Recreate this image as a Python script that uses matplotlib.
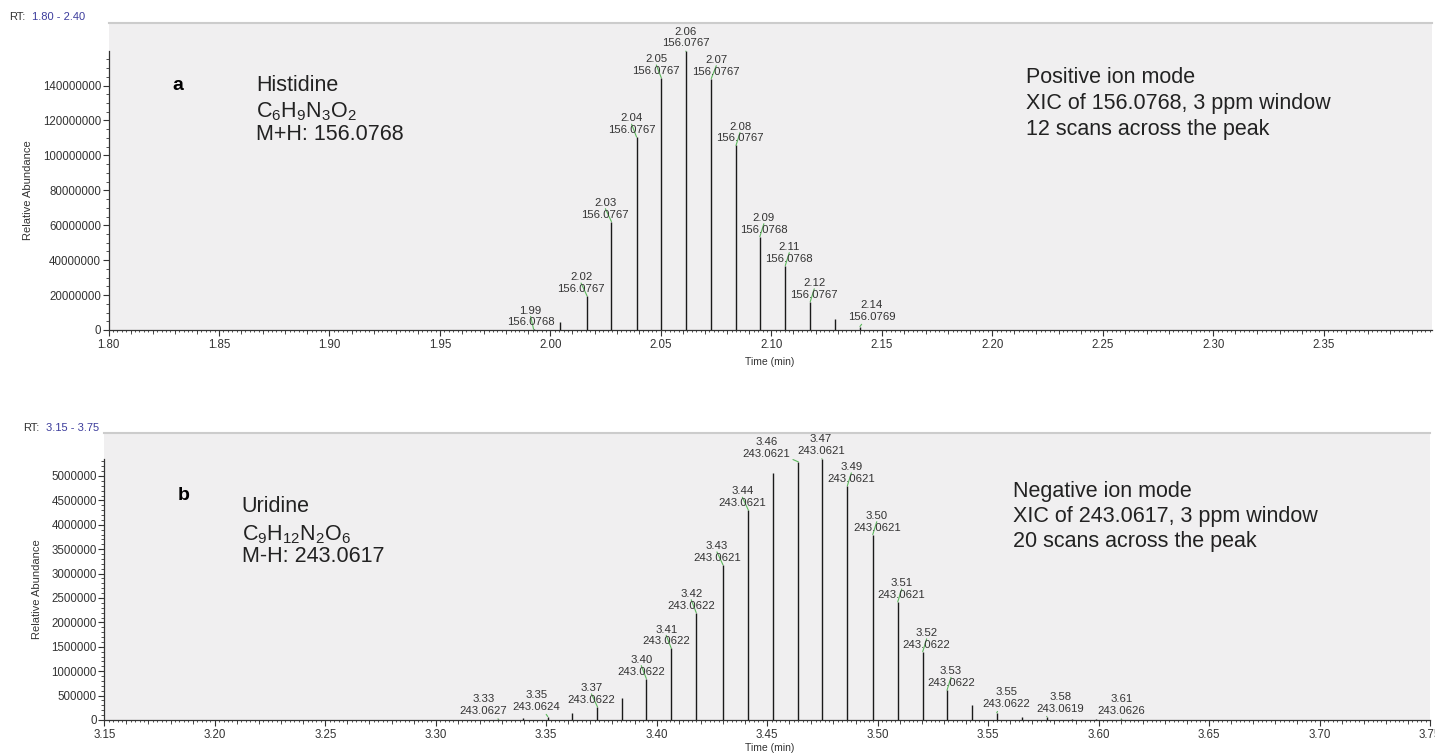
import matplotlib
matplotlib.use("Agg")
import matplotlib.pyplot as plt
from matplotlib.ticker import (MultipleLocator, FixedLocator, FuncFormatter,
                               FormatStrFormatter, NullFormatter, NullLocator)
import numpy as np

plt.rcParams['font.family'] = ['Liberation Sans', 'DejaVu Sans']
plt.rcParams['mathtext.fontset'] = 'custom'
plt.rcParams['mathtext.rm'] = 'Liberation Sans'
plt.rcParams['mathtext.it'] = 'Liberation Sans:italic'
plt.rcParams['mathtext.bf'] = 'Liberation Sans:bold'

# ---------------- data ----------------
# Histidine XIC (positive mode): scan retention times (min), intensities, apex m/z
his_rt = [1.9924, 2.0045, 2.0166, 2.0276, 2.0390, 2.0502, 2.0613,
          2.0728, 2.0840, 2.0948, 2.1063, 2.1176, 2.1289, 2.1401]
his_int = [0.4e6, 4.8e6, 19.5e6, 62.1e6, 110.5e6, 144.4e6, 159.6e6,
           144.0e6, 105.7e6, 53.5e6, 36.9e6, 16.2e6, 6.3e6, 2.0e6]
his_mz = ["156.0768", None, "156.0767", "156.0767", "156.0767", "156.0767",
          "156.0767", "156.0767", "156.0767", "156.0768", "156.0768",
          "156.0767", None, "156.0769"]
his_range = (1.80, 2.40)

# Uridine XIC (negative mode)
uri_rt = [3.3283, 3.3395, 3.3507, 3.3619, 3.3732, 3.3843, 3.3953, 3.4066,
          3.4179, 3.4300, 3.4415, 3.4528, 3.4641, 3.4748, 3.4863, 3.4978,
          3.5091, 3.5204, 3.5314, 3.5427, 3.5539, 3.5652, 3.5765, 3.5878,
          3.5990, 3.6103]
uri_int = [0.02e6, 0.05e6, 0.07e6, 0.137e6, 0.27e6, 0.46e6, 0.85e6, 1.47e6,
           2.20e6, 3.18e6, 4.30e6, 5.07e6, 5.29e6, 5.35e6, 4.80e6, 3.80e6,
           2.42e6, 1.40e6, 0.61e6, 0.31e6, 0.15e6, 0.055e6, 0.07e6, 0.03e6,
           0.02e6, 0.02e6]
uri_mz = ["243.0627", None, "243.0624", None, "243.0622", None, "243.0622",
          "243.0622", "243.0622", "243.0621", "243.0621", None, "243.0621",
          "243.0621", "243.0621", "243.0621", "243.0621", "243.0622",
          "243.0622", None, "243.0622", None, "243.0619", None, None,
          "243.0626"]
uri_range = (3.15, 3.75)

# label placement (pixel offsets of each peak label from its apex)
his_shift = [(-3, 2), None, (-6, 2), (-6, 2), (-5, 2), (-5, 2), (0, 3),
             (5, 2), (4, 2), (4, 2), (4, 2), (4, 2), None, (12, 5)]
uri_shift = [(-15, 3), None, (-11, 5), None, (-6, 2), None, (-5, 2),
             (-5, 2), (-5, 2), (-6, 2), (-6, 2), None, (-32, 3),
             (-1, 3), (4, 2), (4, 2), (4, 2), (4, 2), (4, 2), None,
             (10, 4), None, (14, 3), None, None, (0, 3)]

# ---------------- figure ----------------
W, H = 1435, 754
fig = plt.figure(figsize=(W / 100, H / 100), dpi=100)
fig.patch.set_facecolor('white')

TXT = '#333333'
GREEN = '#5cb85c'
BG = '#f0eff0'


def ftext(x, y, s, **kw):
    fig.text(x / W, 1 - y / H, s, va='baseline', **kw)


def draw_panel(rect, rt, inten, mz, shifts, xlim, ytop, ystep, yminor,
               ylab_xy):
    ax = fig.add_axes(rect)
    ax.set_facecolor(BG)
    ax.set_xlim(*xlim)
    ax.set_ylim(0, ytop)
    ax.vlines(rt, 0, inten, colors='#1a1a1a', lw=1.0, zorder=3)

    for t, h, m, s in zip(rt, inten, mz, shifts):
        if m is None:
            continue
        dx, dy = s
        ax.annotate(f"{t:.2f}\n{m}", xy=(t, h), xytext=(dx, dy),
                    textcoords='offset pixels', ha='center', va='bottom',
                    fontsize=8.2, color=TXT, linespacing=1.22, zorder=4,
                    arrowprops=dict(arrowstyle='-', color=GREEN, lw=0.8,
                                    shrinkA=0, shrinkB=0))

    top = max(inten)
    # x axis
    ax.xaxis.set_major_locator(MultipleLocator(0.05))
    ax.xaxis.set_major_formatter(FormatStrFormatter('%.2f'))
    ax.xaxis.set_minor_locator(MultipleLocator(0.002))
    ax.tick_params(axis='x', which='major', length=4.3, width=0.8, pad=2.5,
                   labelsize=8.3, colors=TXT)
    ax.tick_params(axis='x', which='minor', length=1.5, width=0.6,
                   colors=TXT)
    sec = ax.secondary_xaxis('bottom')
    sec.xaxis.set_major_locator(MultipleLocator(0.01))
    sec.xaxis.set_minor_locator(NullLocator())
    sec.xaxis.set_major_formatter(NullFormatter())
    sec.tick_params(axis='x', length=2.6, width=0.6, colors=TXT)
    sec.spines['bottom'].set_visible(False)

    # y axis: ticks stop at the tallest scan
    ax.yaxis.set_major_locator(FixedLocator(np.arange(0, top + 1, ystep)))
    ax.yaxis.set_minor_locator(FixedLocator(np.arange(0, top + 1, yminor)))
    ax.yaxis.set_major_formatter(FuncFormatter(lambda v, p: f"{v:.0f}"))
    ax.tick_params(axis='y', which='major', length=4.3, width=0.8, pad=1,
                   labelsize=8.3, colors=TXT)
    ax.tick_params(axis='y', which='minor', length=2.2, width=0.6,
                   colors=TXT)

    ax.spines['left'].set_bounds(0, top)
    ax.spines['left'].set_color('#333333')
    ax.spines['bottom'].set_color('#333333')
    ax.spines['left'].set_linewidth(0.9)
    ax.spines['bottom'].set_linewidth(0.9)
    ax.spines['right'].set_visible(False)
    ax.spines['top'].set_color('#cccccc')
    ax.spines['top'].set_linewidth(1.5)

    ax.set_ylabel('Relative Abundance', fontsize=8, color=TXT)
    ax.yaxis.set_label_coords(*ylab_xy)
    return ax


# panel a
ax_a = draw_panel([108.5 / W, 424 / H, 1323.5 / W, 307.3 / H],
                  his_rt, his_int, his_mz, his_shift,
                  (his_range[0], his_range[1] - 0.001), 176e6, 20e6, 5e6,
                  (-0.057, 0.455))
# panel b
ax_b = draw_panel([104.3 / W, 34 / H, 1325.7 / W, 286.7 / H],
                  uri_rt, uri_int, uri_mz, uri_shift,
                  uri_range, 5.875e6, 0.5e6, 0.1e6,
                  (-0.047, 0.455))

# time axis titles
fig.text(770 / W, 1 - 365 / H, 'Time (min)', ha='center', va='baseline',
         fontsize=7.5, color=TXT)
fig.text(770 / W, 1 - 751 / H, 'Time (min)', ha='center', va='baseline',
         fontsize=7.5, color=TXT)

# retention-time window headers
ftext(9, 20, 'RT:', fontsize=8, color=TXT)
ftext(32, 20, f'{his_range[0]:.2f} - {his_range[1]:.2f}', fontsize=8,
      color='#3c3c9c')
ftext(23, 431, 'RT:', fontsize=8, color=TXT)
ftext(46, 431, f'{uri_range[0]:.2f} - {uri_range[1]:.2f}', fontsize=8,
      color='#3c3c9c')

BIG = 15.5
# panel a annotations
ftext(172, 90, 'a', fontsize=14, fontweight='bold', color='black')
ftext(256, 90.7, 'Histidine', fontsize=BIG, color='#222222')
ftext(256, 117, r'$\mathregular{C_6H_9N_3O_2}$', fontsize=BIG, color='#222222')
ftext(256, 140, 'M+H: 156.0768', fontsize=BIG, color='#222222')
ftext(1025.7, 83.3, 'Positive ion mode', fontsize=BIG, color='#222222')
ftext(1025.7, 109.5, 'XIC of 156.0768, 3 ppm window', fontsize=BIG,
      color='#222222')
ftext(1025.7, 135, '12 scans across the peak', fontsize=BIG, color='#222222')

# panel b annotations
ftext(178, 500, 'b', fontsize=14, fontweight='bold', color='black')
ftext(241.7, 511.7, 'Uridine', fontsize=BIG, color='#222222')
ftext(241.7, 540, r'$\mathregular{C_9H_{12}N_2O_6}$', fontsize=BIG,
      color='#222222')
ftext(241.7, 561.7, 'M-H: 243.0617', fontsize=BIG, color='#222222')
ftext(1013.3, 496.7, 'Negative ion mode', fontsize=BIG, color='#222222')
ftext(1013.3, 521.7, 'XIC of 243.0617, 3 ppm window', fontsize=BIG,
      color='#222222')
ftext(1013.3, 546.7, '20 scans across the peak', fontsize=BIG,
      color='#222222')

fig.savefig('out.png', dpi=100, facecolor='white')
